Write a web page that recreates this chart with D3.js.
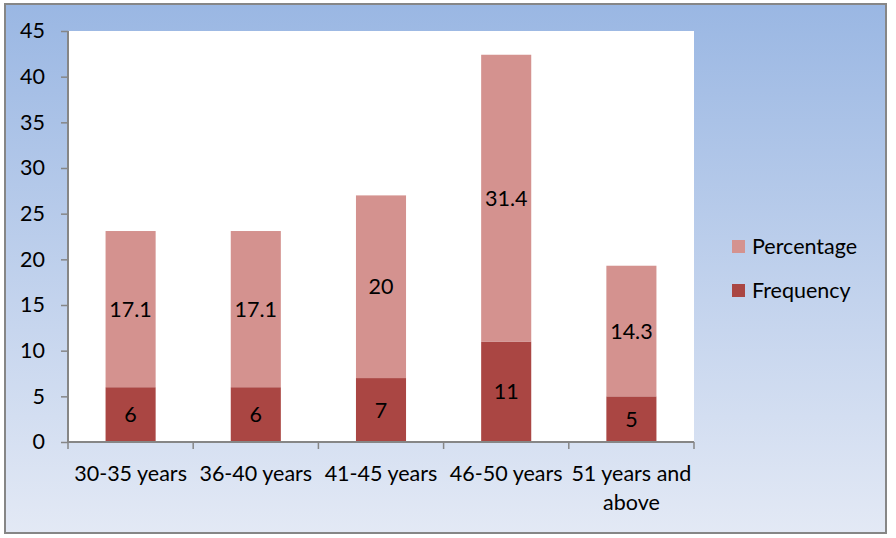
<!DOCTYPE html>
<html><head><meta charset="utf-8">
<script src="https://cdn.jsdelivr.net/npm/d3@7"></script>
<style>body{margin:0;background:#fff}svg{display:block}text{font-family:Lato,"Open Sans",sans-serif}</style>
</head><body>
<svg id="c" width="896" height="538"></svg>
<script>
const categories = ["30-35 years","36-40 years","41-45 years","46-50 years","51 years and above"];
const frequency = [6,6,7,11,5];
const percentage = [17.1,17.1,20,31.4,14.3];
const yTicks = [0,5,10,15,20,25,30,35,40,45];
const seriesNames = ["Percentage","Frequency"];
const colors = {Frequency:"#AA4643", Percentage:"#D4928F"};
const FS = 21.5;

const svg = d3.select("#c");
const defs = svg.append("defs");
const g = defs.append("linearGradient").attr("id","bg").attr("x1",0).attr("y1",0).attr("x2",0).attr("y2",1);
g.append("stop").attr("offset","0%").attr("stop-color","#9AB7E3");
g.append("stop").attr("offset","100%").attr("stop-color","#E3E9F5");
svg.append("rect").attr("x",5).attr("y",4).attr("width",881).attr("height",529)
  .attr("fill","url(#bg)").attr("stroke","#868686").attr("stroke-width",2);

const m = {l:68, t:31, r:694, b:442};
const x = d3.scaleBand().domain(categories).range([m.l,m.r]).paddingInner(0.6).paddingOuter(0.3);
const y = d3.scaleLinear().domain([0,45]).range([m.b,m.t]);

svg.append("rect").attr("x",m.l).attr("y",m.t).attr("width",m.r-m.l).attr("height",m.b-m.t).attr("fill","#fff");

const data = categories.map((c,i)=>({cat:c, Frequency:frequency[i], Percentage:percentage[i]}));
const stack = d3.stack().keys(["Frequency","Percentage"])(data);

const layers = svg.append("g").selectAll("g").data(stack).join("g").attr("fill",d=>colors[d.key]);
layers.selectAll("rect").data(d=>d).join("rect")
  .attr("x",d=>x(d.data.cat)).attr("width",x.bandwidth())
  .attr("y",d=>y(d[1])).attr("height",d=>y(d[0])-y(d[1]));

layers.each(function(s){
  d3.select(this).selectAll("text.lbl").data(s).join("text").attr("class","lbl")
    .attr("x",d=>x(d.data.cat)+x.bandwidth()/2)
    .attr("y",d=>y((d[0]+d[1])/2))
    .attr("dy","0.35em").attr("text-anchor","middle").attr("fill","#000").attr("font-size",FS)
    .text(d=>d.data[s.key]);
});

// y axis
const ya = svg.append("g").attr("transform",`translate(${m.l},0)`)
  .call(d3.axisLeft(y).tickValues(yTicks).tickSize(7).tickPadding(16));
ya.selectAll("text").attr("font-size",FS).attr("fill","#000").attr("font-family","Lato");
ya.selectAll("line").attr("stroke","#868686").attr("stroke-width",1.5);
ya.select(".domain").attr("stroke","#868686").attr("stroke-width",2).attr("d",`M0,${m.t}V${m.b}`);

// x axis
const xa = svg.append("g").attr("transform",`translate(0,${m.b})`);
xa.append("line").attr("x1",m.l).attr("x2",m.r).attr("stroke","#868686").attr("stroke-width",2);
const bounds = d3.range(categories.length+1).map(i=>m.l+i*(m.r-m.l)/categories.length);
xa.selectAll("line.t").data(bounds).join("line").attr("class","t")
  .attr("x1",d=>d).attr("x2",d=>d).attr("y1",0).attr("y2",7).attr("stroke","#868686").attr("stroke-width",1.5);
const lines = {"51 years and above":["51 years and","above"]};
xa.selectAll("text").data(categories).join("text")
  .attr("x",d=>x(d)+x.bandwidth()/2).attr("y",39).attr("text-anchor","middle").attr("font-size",FS).attr("fill","#000")
  .each(function(d){
    const ls = lines[d]||[d];
    d3.select(this).selectAll("tspan").data(ls).join("tspan")
      .attr("x",x(d)+x.bandwidth()/2).attr("dy",(l,i)=>i?29:0).text(l=>l);
  });

// legend
const lg = svg.append("g");
seriesNames.forEach((n,i)=>{
  const yy = 240 + i*44;
  lg.append("rect").attr("x",732).attr("y",yy).attr("width",13).attr("height",13).attr("fill",colors[n]);
  lg.append("text").attr("x",752).attr("y",yy+6.5).attr("dy","0.35em").attr("font-size",FS).attr("fill","#000").text(n);
});
</script>
</body></html>
